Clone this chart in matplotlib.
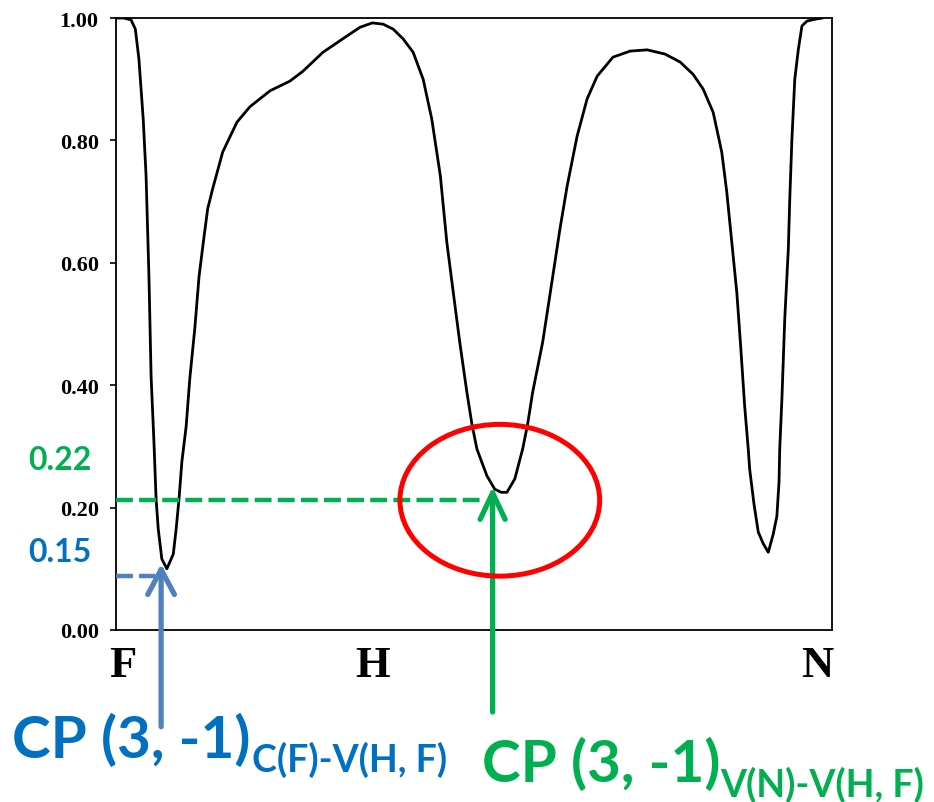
import matplotlib
matplotlib.use("Agg")
import matplotlib.pyplot as plt
from matplotlib.patches import Ellipse

# path coordinate (0 = F, 100 = N) and the plotted quantity
path_x = [0.0, 1.1, 2.1, 2.7, 3.2, 3.8, 4.2, 4.6, 4.9, 5.3, 5.6, 5.9, 6.4, 7.1,
          8.0, 8.4, 8.8, 9.2, 9.8, 10.3, 11.0, 11.6, 12.2, 12.8, 13.5, 14.9,
          16.9, 18.7, 21.5, 24.3, 26.1, 28.9, 32.3, 34.1, 35.8, 37.3, 38.7,
          40.1, 41.5, 42.9, 44.1, 45.3, 46.2, 47.1, 48.0, 49.0, 49.7, 50.4,
          51.8, 52.9, 53.8, 54.6, 55.7, 56.8, 57.5, 58.2, 59.6, 61.0, 62.0,
          63.0, 64.4, 65.8, 67.2, 69.4, 71.8, 74.2, 76.7, 78.8, 80.6, 82.0,
          83.4, 84.6, 85.3, 86.0, 86.7, 87.2, 87.8, 88.3, 88.5, 89.1, 89.7,
          90.4, 91.1, 91.8, 92.3, 92.6, 92.7, 93.0, 93.4, 93.9, 94.1, 94.4,
          94.8, 95.3, 95.8, 96.5, 97.6, 98.6]
path_y = [1.000, 1.000, 0.997, 0.982, 0.933, 0.835, 0.742, 0.578, 0.415, 0.307,
          0.214, 0.165, 0.116, 0.100, 0.124, 0.165, 0.214, 0.275, 0.333, 0.410,
          0.492, 0.578, 0.634, 0.688, 0.721, 0.781, 0.830, 0.855, 0.881, 0.897,
          0.913, 0.944, 0.971, 0.985, 0.992, 0.990, 0.982, 0.966, 0.944, 0.900,
          0.835, 0.742, 0.634, 0.552, 0.471, 0.389, 0.337, 0.296, 0.252, 0.230,
          0.225, 0.225, 0.247, 0.296, 0.337, 0.389, 0.471, 0.578, 0.655, 0.725,
          0.807, 0.868, 0.905, 0.936, 0.946, 0.948, 0.941, 0.928, 0.908, 0.884,
          0.846, 0.781, 0.716, 0.634, 0.552, 0.471, 0.366, 0.296, 0.263, 0.206,
          0.160, 0.141, 0.127, 0.157, 0.186, 0.242, 0.296, 0.377, 0.508, 0.623,
          0.704, 0.802, 0.900, 0.949, 0.987, 0.995, 0.998, 1.000]

y_ticks = [0.0, 0.2, 0.4, 0.6, 0.8, 1.0]
y_ticklabels = ["0.00", "0.20", "0.40", "0.60", "0.80", "1.00"]
x_ticks = [1.0, 35.8, 97.9]
x_ticklabels = ["F", "H", "N"]

# critical points marked on the chart
cp1_x, cp1_y, cp1_level = 6.3, 0.108, 0.088
cp2_x, cp2_y, cp2_level = 52.6, 0.234, 0.212
cp1_label = "0.15"
cp2_label = "0.22"

BLUE_TXT = "#0070C0"
BLUE_LN = "#4F81BD"
GREEN = "#00B050"
RED = "#FF0000"

fig = plt.figure(figsize=(9.34, 8.03), dpi=100)
ax = fig.add_axes([0.1242, 0.2142, 0.7666, 0.7621])

ax.plot(path_x, path_y, color="black", lw=2.0, zorder=3,
        solid_joinstyle="round")

ax.set_xlim(0, 100)
ax.set_ylim(0, 1.0)
ax.set_yticks(y_ticks)
ax.set_yticklabels(y_ticklabels, fontfamily="Liberation Serif",
                   fontweight="bold", fontsize=16)
ax.set_xticks(x_ticks)
ax.set_xticklabels(x_ticklabels, fontfamily="Liberation Serif",
                   fontweight="bold", fontsize=32)
ax.tick_params(axis="y", direction="out", length=4.5, width=1.2, pad=8)
ax.tick_params(axis="x", length=0, pad=11)
for sp in ax.spines.values():
    sp.set_linewidth(1.3)

# dashed guide lines
ax.plot([0, 51.1], [cp2_level, cp2_level], color=GREEN, lw=3.2,
        dashes=(3.8, 1.4), zorder=4)
ax.plot([0, 5.5], [cp1_level, cp1_level], color=BLUE_LN, lw=3.2,
        dashes=(3.8, 1.4), zorder=4)

# arrows up to the minima
ax.annotate("", xy=(cp1_x, cp1_y), xytext=(cp1_x, -0.158),
            annotation_clip=False,
            arrowprops=dict(arrowstyle="->,head_length=0.9,head_width=0.48",
                            color=BLUE_LN, lw=3.8, mutation_scale=20,
                            shrinkA=0, shrinkB=0), zorder=5)
ax.annotate("", xy=(cp2_x, cp2_y), xytext=(cp2_x, -0.134),
            annotation_clip=False,
            arrowprops=dict(arrowstyle="->,head_length=0.95,head_width=0.45",
                            color=GREEN, lw=3.8, mutation_scale=20,
                            shrinkA=0, shrinkB=0), zorder=5)

ax.add_patch(Ellipse((53.6, 0.212), 27.9, 0.248, fill=False,
                     edgecolor=RED, lw=3.6, zorder=5))

# value labels to the left of the axis
ax.text(-7.8, 0.279, cp2_label, color=GREEN, fontfamily="Lato",
        fontweight="bold", fontsize=23, ha="center", va="center",
        clip_on=False)
ax.text(-7.8, 0.129, cp1_label, color=BLUE_TXT, fontfamily="Lato",
        fontweight="bold", fontsize=23, ha="center", va="center",
        clip_on=False)

W, H = 934, 803
def ftext(px, py, s, color, size):
    fig.text(px / W, 1 - py / H, s, color=color, fontfamily="Lato",
             fontweight="bold", fontsize=size, ha="left", va="baseline")

ftext(12, 758, "CP (3, -1)", BLUE_TXT, 42)
ftext(252, 772, "C(F)-V(H, F)", BLUE_TXT, 27)
ftext(482, 782, "CP (3, -1)", GREEN, 42)
ftext(720, 797, "V(N)-V(H, F)", GREEN, 27)

fig.savefig("out.png", dpi=100)
